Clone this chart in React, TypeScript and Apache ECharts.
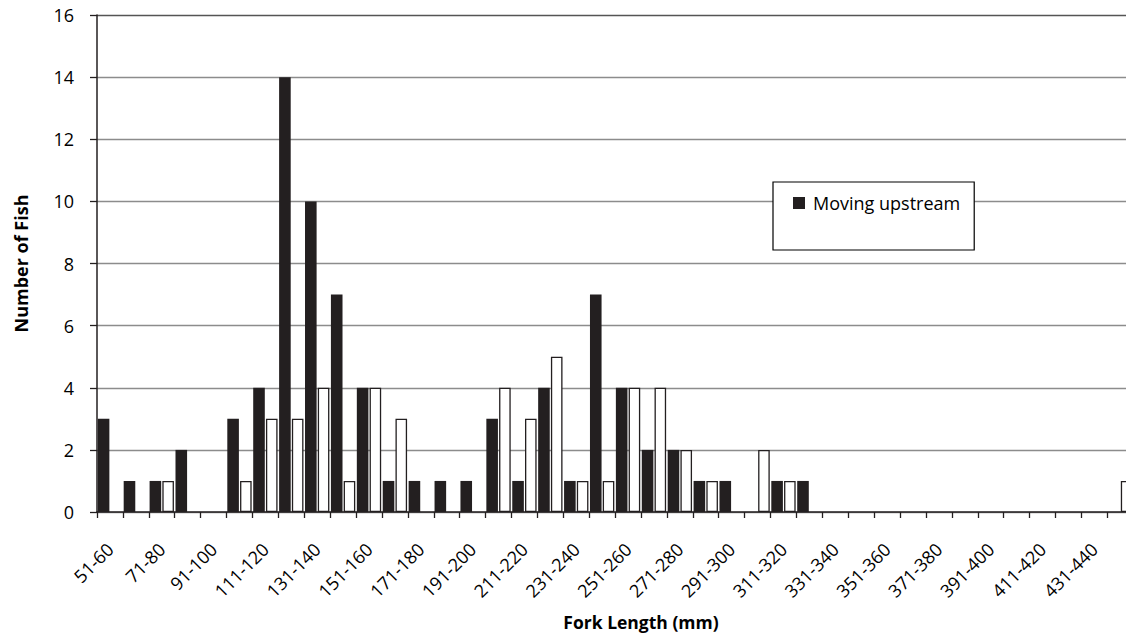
import React, { useEffect, useRef } from "react";
import * as echarts from "echarts";

const categories = [
  "51-60", "61-70", "71-80", "81-90", "91-100", "101-110", "111-120", "121-130",
  "131-140", "141-150", "151-160", "161-170", "171-180", "181-190", "191-200", "201-210",
  "211-220", "221-230", "231-240", "241-250", "251-260", "261-270", "271-280", "281-290",
  "291-300", "301-310", "311-320", "321-330", "331-340", "341-350", "351-360", "361-370",
  "371-380", "381-390", "391-400", "401-410", "411-420", "421-430", "431-440", "441-450",
  "451-460", "461-470",
];

const upstream = [
  3, 1, 1, 2, 0, 3, 4, 14, 10, 7, 4, 1, 1, 1, 1, 3, 1, 4, 1, 7, 4, 2, 2, 1, 1, 0, 1, 1,
  0, 0, 0, 0, 0, 0, 0, 0, 0, 0, 0, 0, 0, 0,
];

const downstream = [
  0, 0, 1, 0, 0, 1, 3, 3, 4, 1, 4, 3, 0, 0, 0, 4, 3, 5, 1, 1, 4, 4, 2, 1, 0, 2, 1, 0,
  0, 0, 0, 0, 0, 0, 0, 0, 0, 0, 0, 1, 0, 0,
];

const yTicks = { min: 0, max: 16, interval: 2 };

// last category label that falls inside the visible picture
const lastVisibleLabel = "431-440";

const FONT = "'Open Sans', 'Liberation Sans', sans-serif";
const INK = "#231f20";

export default function App() {
  const ref = useRef<HTMLDivElement>(null);
  useEffect(() => {
    if (!ref.current) return;
    const chart = echarts.init(ref.current, null, { renderer: "svg" });
    const gridColors = ["#8c8c8c", "#8c8c8c", "#8c8c8c", "#8c8c8c", "#8c8c8c", "#8c8c8c", "#8c8c8c", "#8c8c8c", "#555555"];
    const lastIdx = categories.indexOf(lastVisibleLabel);
    chart.setOption({
      animation: false,
      textStyle: { fontFamily: FONT, color: "#000" },
      grid: {
        left: 97,
        top: 15,
        bottom: 125,
        right: -59,
        containLabel: false,
        outerBoundsMode: "none",
      },
      legend: {
        data: ["Moving upstream"],
        left: 773,
        top: 182,
        orient: "vertical",
        backgroundColor: "#fff",
        borderColor: "#000",
        borderWidth: 1.2,
        borderRadius: 0,
        padding: [12, 14, 38, 20],
        itemWidth: 12,
        itemHeight: 12,
        itemGap: 5,
        icon: "rect",
        textStyle: { fontFamily: FONT, fontSize: 18, color: "#000", padding: [0, 0, 0, 3] },
      },
      xAxis: {
        type: "category",
        data: categories,
        name: "Fork Length (mm)",
        nameLocation: "middle",
        nameGap: 101,
        nameTextStyle: { fontFamily: FONT, fontSize: 17.5, fontWeight: "bold", color: "#000" },
        axisLine: { lineStyle: { color: INK, width: 1.5 } },
        axisTick: { show: true, interval: 0, length: 6, lineStyle: { color: INK, width: 1.3 } },
        axisLabel: {
          interval: (i: number) => i % 2 === 0 && i <= lastIdx,
          rotate: 45,
          margin: 34,
          fontSize: 18,
          fontFamily: FONT,
          color: "#000",
        },
        splitLine: { show: false },
      },
      yAxis: {
        type: "value",
        min: yTicks.min,
        max: yTicks.max,
        interval: yTicks.interval,
        name: "Number of Fish",
        nameLocation: "middle",
        nameGap: 67,
        nameTextStyle: { fontFamily: FONT, fontSize: 18, fontWeight: "bold", color: "#000" },
        axisLine: { show: true, lineStyle: { color: INK, width: 1.5 } },
        axisTick: { show: true, length: 7, lineStyle: { color: INK, width: 1.3 } },
        axisLabel: { margin: 23, fontSize: 18, fontFamily: FONT, color: "#000" },
        splitLine: { show: true, lineStyle: { color: gridColors, width: 1.3 } },
      },
      series: [
        {
          name: "Moving upstream",
          type: "bar",
          data: upstream.map((v) => (v === 0 ? "-" : v)),
          itemStyle: { color: INK },
          barGap: "10%",
          barCategoryGap: "6%",
        },
        {
          name: "Moving downstream",
          type: "bar",
          data: downstream.map((v) => (v === 0 ? "-" : v)),
          itemStyle: { color: "#fff", borderColor: INK, borderWidth: 1.3 },
          barGap: "10%",
          barCategoryGap: "6%",
        },
      ],
    });
    return () => chart.dispose();
  }, []);
  return (
    <div
      ref={ref}
      style={{ position: "fixed", left: 0, top: 0, width: 1126, height: 637, background: "#fff" }}
    />
  );
}
